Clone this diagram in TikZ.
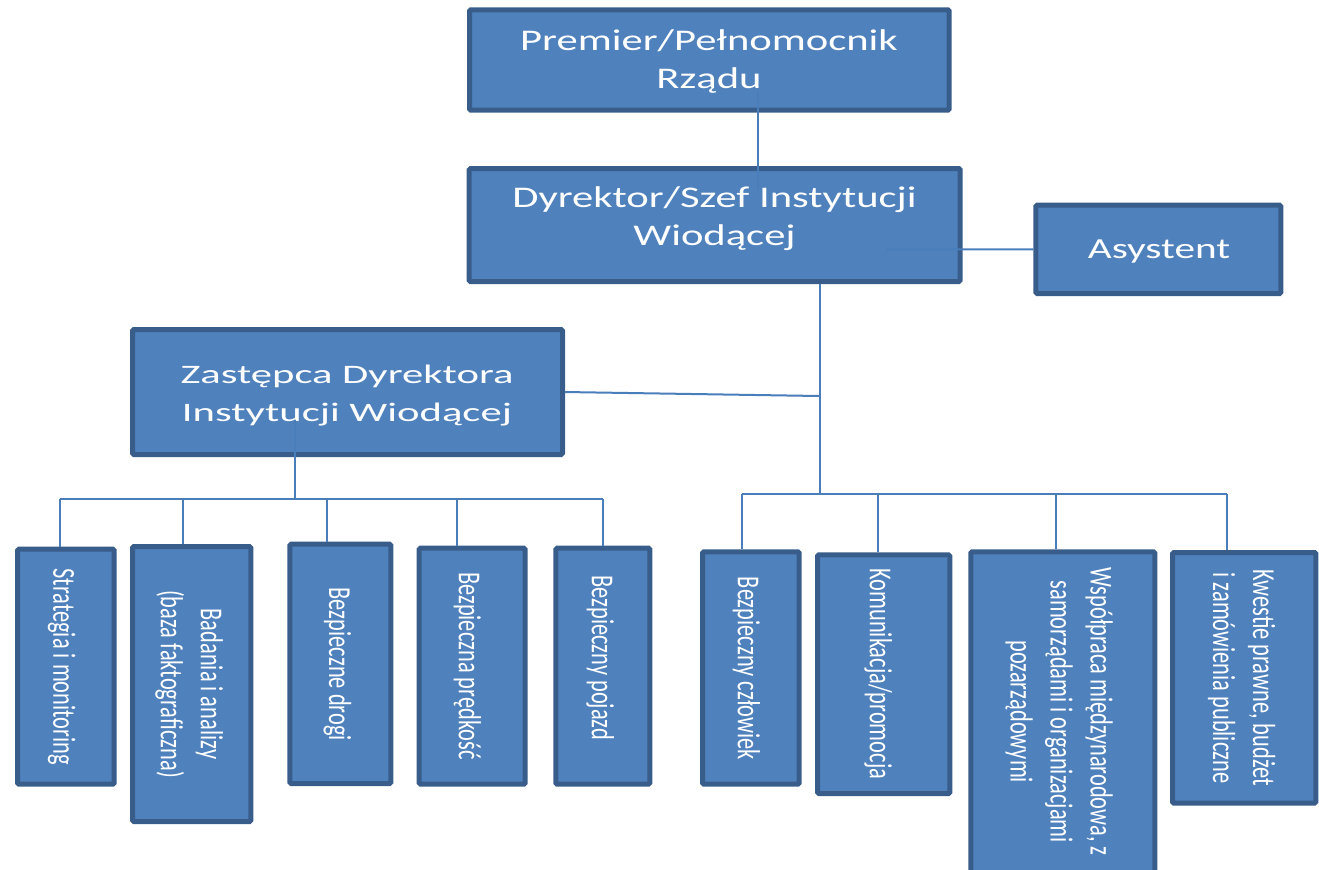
\documentclass[tikz,border=0pt]{standalone}
\usepackage{fontspec}
\newfontfamily\hfont[FakeStretch=1.42]{Carlito}
\newfontfamily\zfont[FakeStretch=1.6]{Carlito}
\newfontfamily\vfont[FakeStretch=0.70]{Carlito}
\definecolor{boxfill}{HTML}{4F81BD}
\definecolor{boxline}{HTML}{385D8A}
\definecolor{connc}{HTML}{4A7EBB}
\newcommand\obox[5]{\node[box, minimum width={(#4-#2-5)*0.75pt}, minimum height={(#5-#3-5)*0.75pt}] (#1) at ({(#2+#4)/2},{(#3+#5)/2}) {};}
\begin{document}
\begin{tikzpicture}[x=0.75pt,y=-0.75pt,
  box/.style={draw=boxline, fill=boxfill, line width=3.75pt, rounded corners=1pt, inner sep=0pt},
  conn/.style={draw=connc, line width=1.5pt},
  htxt/.style={text=white, align=center, inner sep=0pt, font=\hfont\fontsize{22.5}{28.5}\selectfont},
  atxt/.style={text=white, align=center, inner sep=0pt, font=\hfont\fontsize{21.8}{28}\selectfont},
  ztxt/.style={text=white, align=center, inner sep=0pt, font=\zfont\fontsize{20}{28}\selectfont},
  vtxt/.style={text=white, align=center, inner sep=0pt, rotate=-90, font=\vfont\fontsize{24}{30}\selectfont}
]
\useasboundingbox (0,0) rectangle (1319,869);
\clip (0,0) rectangle (1319,869);
% boxes
\obox{prem}{467}{7.3}{951.7}{112.7}
\obox{dyr}{466.7}{166}{962.7}{284}
\obox{asy}{1033.3}{202.7}{1283.3}{296}
\obox{zast}{130}{327}{565}{457}
\obox{b1}{15}{546.7}{116.7}{786.7}
\obox{b2}{130}{544}{253.3}{824}
\obox{b3}{287.3}{541.7}{393.3}{786}
\obox{b4}{416.7}{545.7}{527.7}{786.7}
\obox{b5}{553.3}{545.7}{652.3}{786.7}
\obox{b6}{700}{549.3}{801.7}{786.7}
\obox{b7}{815}{552.3}{952.3}{796}
\obox{b8}{968.3}{549.3}{1157.3}{880}
\obox{b9}{1170}{550}{1318.3}{805.7}
% texts
\node[htxt] (premt) at (709,61) {Premier/Pełnomocnik\\Rządu};
\node[htxt] (dyrt) at (714.5,218.5) {Dyrektor/Szef Instytucji\\Wiodącej};
\node[atxt] (asyt) at (1159,252) {Asystent};
\node[ztxt] (zastt) at (347,395.5) {Zastępca Dyrektora\\Instytucji Wiodącej};
\node[vtxt] (t1) at (61.7,666.7) {Strategia i monitoring};
\node[vtxt] (t2) at (189.2,684) {Badania i analizy\\(baza faktograficzna)};
\node[vtxt] (t3) at (337.5,664.2) {Bezpieczne drogi};
\node[vtxt] (t4) at (467.5,665.8) {Bezpieczna prędkość};
\node[vtxt] (t5) at (600.3,657.7) {Bezpieczny pojazd};
\node[vtxt] (t6) at (746.3,668.3) {Bezpieczny człowiek};
\node[vtxt] (t7) at (878.3,673.8) {Komunikacja/promocja};
\node[vtxt] (t8) at (1059.2,711.7) {Współpraca międzynarodowa, z\\samorządami i organizacjami\\pozarządowymi};
\node[vtxt] (t9) at (1241.7,678) {Kwestie prawne, budżet\\i zamówienia publiczne};
% connectors
\coordinate (pa) at (757.7,92);
\coordinate (pb) at (757.7,190);
\draw[conn] (pa) -- (pb);
\coordinate (aa) at (886.7,249.3);
\draw[conn] (aa) -- (asy.west);
\coordinate (jR) at (819.5,494);
\draw[conn] (dyr.south -| jR) -- (jR);
\coordinate (zj) at (819.5,396);
\draw[conn] (zast.east) -- (zj);
\coordinate (rb1) at (742,494);
\coordinate (rb2) at (877.6,494);
\coordinate (rb3) at (1055.7,494);
\coordinate (rb4) at (1227,494);
\draw[conn] (rb1) -- (rb4);
\draw[conn] (rb1) -- (rb1 |- b6.north);
\draw[conn] (rb2) -- (rb2 |- b7.north);
\draw[conn] (rb3) -- (rb3 |- b8.north);
\draw[conn] (rb4) -- (rb4 |- b9.north);
\coordinate (zl) at (294.5,420);
\coordinate (jL) at (294.5,498.5);
\draw[conn] (zl) -- (jL);
\coordinate (lb1) at (60,498.5);
\coordinate (lb2) at (183.4,498.5);
\coordinate (lb3) at (326.5,498.5);
\coordinate (lb4) at (456.6,498.5);
\coordinate (lb5) at (602.8,498.5);
\draw[conn] (lb1) -- (lb5);
\draw[conn] (lb1) -- (lb1 |- b1.north);
\draw[conn] (lb2) -- (lb2 |- b2.north);
\draw[conn] (lb3) -- (lb3 |- b3.north);
\draw[conn] (lb4) -- (lb4 |- b4.north);
\draw[conn] (lb5) -- (lb5 |- b5.north);
\end{tikzpicture}
\end{document}
